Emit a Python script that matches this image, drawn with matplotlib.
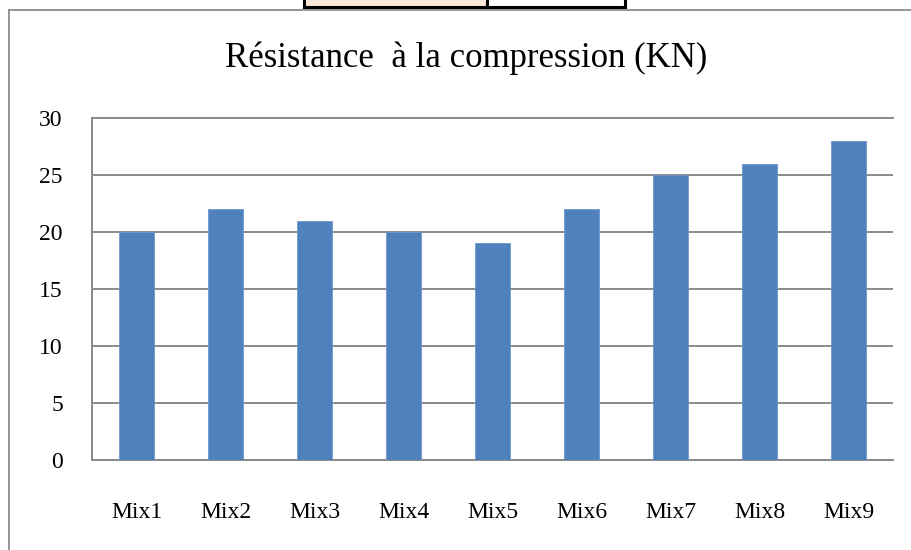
import matplotlib.pyplot as plt
from matplotlib.patches import Rectangle
from matplotlib.lines import Line2D

# data
categories = ["Mix1", "Mix2", "Mix3", "Mix4", "Mix5", "Mix6", "Mix7", "Mix8", "Mix9"]
values = [20, 22, 21, 20, 19, 22, 25, 26, 28]
y_ticks = [0, 5, 10, 15, 20, 25, 30]

plt.rcParams["font.family"] = "Liberation Serif"

W, H = 912, 550
fig = plt.figure(figsize=(W / 100, H / 100), dpi=100)

# outer chart border (left and top visible)
fig.add_artist(Line2D([9 / W, 9 / W], [0, (H - 10) / H], transform=fig.transFigure,
                      color="#8c8c8c", linewidth=1.3))
fig.add_artist(Line2D([9 / W, 1], [(H - 10) / H, (H - 10) / H], transform=fig.transFigure,
                      color="#8c8c8c", linewidth=1.3))

# small box at the top edge
fig.add_artist(Rectangle((304 / W, (H - 7) / H), 183 / W, 10 / H, transform=fig.transFigure,
                         facecolor="#fce8d8", edgecolor="black", linewidth=2.2))
fig.add_artist(Rectangle((487 / W, (H - 7) / H), 138 / W, 10 / H, transform=fig.transFigure,
                         facecolor="white", edgecolor="black", linewidth=2.2))

left, right, top, bottom = 92, 893, 118, 460
ax = fig.add_axes([left / W, (H - bottom) / H, (right - left) / W, (bottom - top) / H])

x = list(range(len(categories)))
ax.bar(x, values, width=0.4, color="#4f81bd", edgecolor="#6f97cc", linewidth=0.6, zorder=3)

ax.set_xlim(-0.5, len(categories) - 0.5)
ax.set_ylim(0, 30)
ax.set_yticks(y_ticks)
ax.set_yticklabels([str(t) for t in y_ticks], fontsize=17)
ax.set_xticks(x)
ax.set_xticklabels(categories, fontsize=17)
ax.tick_params(axis="y", length=0, pad=21)
ax.tick_params(axis="x", length=0, pad=30)

ax.grid(axis="y", color="#8a8a8a", linewidth=1.4, zorder=0)
ax.spines["right"].set_visible(False)
for s in ["left", "top", "bottom"]:
    ax.spines[s].set_color("#8a8a8a")
    ax.spines[s].set_linewidth(1.4)

fig.text(466 / W, (H - 58) / H, "Résistance  à la compression (KN)", ha="center", va="center",
         fontsize=25)

fig.savefig("out.png", dpi=100)
